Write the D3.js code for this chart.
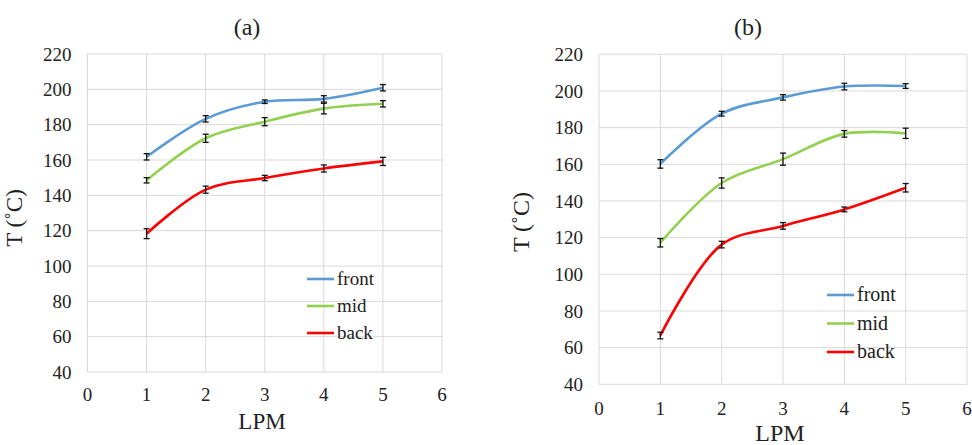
<!DOCTYPE html>
<html>
<head>
<meta charset="utf-8">
<script src="https://cdn.jsdelivr.net/npm/d3@7.9.0/dist/d3.min.js"></script>
<style>
  body { margin: 0; background: #fff; }
</style>
</head>
<body>
<svg id="chart" width="972" height="445"></svg>
<script>
// LPM values, series names, colours
const lpm = [1, 2, 3, 4, 5];
const seriesNames = ['front', 'mid', 'back'];
const seriesColors = ['#5b9bd5', '#92d050', '#ff0000'];
const xTicks = [0, 1, 2, 3, 4, 5, 6];
const yTicks = [40, 60, 80, 100, 120, 140, 160, 180, 200, 220];

// panel (a)
const frontA = [161.8, 183.3, 193.0, 194.6, 200.9];
const midA   = [148.5, 172.3, 181.7, 189.1, 191.8];
const backA  = [118.3, 143.2, 149.8, 155.2, 159.2];
const frontErrA = [1.8, 1.8, 1.0, 1.8, 1.8];
const midErrA   = [1.5, 2.3, 2.3, 3.0, 1.8];
const backErrA  = [2.8, 2.0, 1.5, 2.0, 2.3];

// panel (b)
const frontB = [160.2, 187.6, 196.5, 202.4, 202.7];
const midB   = [117.2, 149.8, 162.8, 176.6, 176.9];
const backB  = [66.6, 116.2, 126.4, 135.4, 147.2];
const frontErrB = [2.3, 1.3, 1.5, 1.8, 1.3];
const midErrB   = [2.3, 2.8, 3.3, 1.8, 2.8];
const backErrB  = [1.8, 1.8, 1.8, 1.3, 2.3];

const svg = d3.select('#chart');
const FONT = '"Liberation Serif"';

function label(g) {
  return g.append('text').style('font-family', FONT).attr('fill', '#222');
}

function drawPanel(p) {
  const x = d3.scaleLinear().domain([0, 6]).range([p.left, p.right]);
  const y = d3.scaleLinear().domain([40, 220]).range([p.bottom, p.top]);
  const g = svg.append('g');

  // gridlines
  g.selectAll('.hg').data(yTicks).join('line')
    .attr('x1', p.left).attr('x2', p.right)
    .attr('y1', d => y(d)).attr('y2', d => y(d))
    .attr('stroke', '#d9d9d9').attr('stroke-width', 1);
  g.selectAll('.vg').data(xTicks).join('line')
    .attr('y1', p.top).attr('y2', p.bottom)
    .attr('x1', d => x(d)).attr('x2', d => x(d))
    .attr('stroke', '#d9d9d9').attr('stroke-width', 1);

  // tick labels
  yTicks.forEach(t => {
    label(g).attr('x', p.left - 16).attr('y', y(t)).attr('dy', '0.35em')
      .attr('text-anchor', 'end').attr('font-size', p.tickSize).text(t);
  });
  xTicks.forEach(t => {
    label(g).attr('x', x(t)).attr('y', p.xLabelY)
      .attr('text-anchor', 'middle').attr('font-size', p.tickSize).text(t);
  });

  // titles
  label(g).attr('x', p.titleX).attr('y', 35)
    .attr('text-anchor', 'middle').attr('font-size', 24).text(p.title);
  label(g).attr('x', p.lpmX).attr('y', p.lpmY)
    .attr('text-anchor', 'middle').attr('font-size', p.axisSize).text('LPM');
  label(g).attr('transform', `translate(${p.tX},${p.tY}) rotate(-90)`)
    .attr('text-anchor', 'middle').attr('font-size', p.axisSize).text('T (˚C)');

  const line = d3.line().x((d, i) => x(lpm[i])).y(d => y(d)).curve(d3.curveCatmullRom.alpha(0.5));

  p.series.forEach((vals, si) => {
    g.append('path').attr('d', line(vals))
      .attr('fill', 'none').attr('stroke', seriesColors[si]).attr('stroke-width', 2.6);
  });

  // error bars
  p.series.forEach((vals, si) => {
    const errs = p.errs[si];
    vals.forEach((v, i) => {
      const cx = x(lpm[i]);
      const e = g.append('g').attr('stroke', '#111').attr('stroke-width', 1.3);
      e.append('line').attr('x1', cx).attr('x2', cx).attr('y1', y(v - errs[i])).attr('y2', y(v + errs[i]));
      e.append('line').attr('x1', cx - 3).attr('x2', cx + 3).attr('y1', y(v - errs[i])).attr('y2', y(v - errs[i]));
      e.append('line').attr('x1', cx - 3).attr('x2', cx + 3).attr('y1', y(v + errs[i])).attr('y2', y(v + errs[i]));
    });
  });

  // legend
  seriesNames.forEach((name, si) => {
    const ly = p.legY + si * p.legGap;
    g.append('line').attr('x1', p.legX).attr('x2', p.legX + 27)
      .attr('y1', ly).attr('y2', ly)
      .attr('stroke', seriesColors[si]).attr('stroke-width', 2.6);
    label(g).attr('x', p.legX + 30).attr('y', ly).attr('dy', '0.3em')
      .attr('font-size', p.legSize).text(name);
  });
}

drawPanel({
  title: '(a)', left: 87.5, right: 442, top: 54, bottom: 372,
  series: [frontA, midA, backA], errs: [frontErrA, midErrA, backErrA],
  tickSize: 19, axisSize: 23, xLabelY: 401, titleX: 247,
  lpmX: 262, lpmY: 429, tX: 22, tY: 218,
  legX: 307, legY: 279, legGap: 27, legSize: 19
});

drawPanel({
  title: '(b)', left: 599, right: 967, top: 54.3, bottom: 384.3,
  series: [frontB, midB, backB], errs: [frontErrB, midErrB, backErrB],
  tickSize: 19, axisSize: 24, xLabelY: 415, titleX: 748,
  lpmX: 780, lpmY: 441, tX: 529, tY: 222,
  legX: 827, legY: 295, legGap: 28.5, legSize: 20
});
</script>
</body>
</html>
